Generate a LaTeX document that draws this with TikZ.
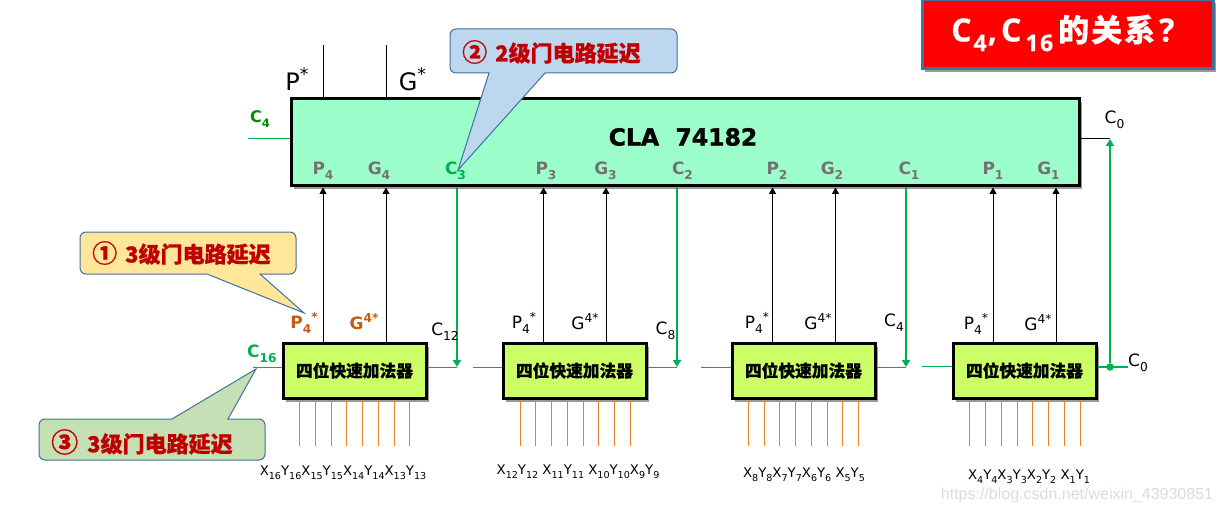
\documentclass[tikz,border=0pt]{standalone}
\usepackage{fontspec}
\setmainfont{DejaVu Sans}
\newfontfamily\cjk[BoldFeatures={FakeBold=0.6}]{Noto Sans CJK SC}
\newfontfamily\blk[BoldFeatures={FakeBold=1.6}]{DejaVu Sans}
\newfontfamily\ttlf[BoldFeatures={FakeBold=0.5}]{Open Sans}
\newfontfamily\wmf{Liberation Sans}
\usetikzlibrary{arrows.meta,shadows}
\definecolor{cgreen}{HTML}{00B050}
\definecolor{dgreen}{HTML}{008A00}
\definecolor{orng}{HTML}{ED7D31}
\definecolor{dorng}{HTML}{C55A11}
\definecolor{gry}{HTML}{767171}
\definecolor{dred}{HTML}{C00000}
\definecolor{edge}{HTML}{41719C}
\definecolor{mint}{HTML}{9CFFCB}
\definecolor{lime}{HTML}{CCFF66}
\definecolor{cyell}{HTML}{FFE699}
\definecolor{cblue}{HTML}{BDD7EE}
\definecolor{cgrn}{HTML}{C5E0B4}
\newcommand\fs[1]{\fontsize{#1}{#1}\selectfont}
\newcommand\dn[1]{\raisebox{-.3em}{\scalebox{.72}{#1}}}
\newcommand\upp[1]{\raisebox{.42em}{\scalebox{.72}{#1}}}
\newcommand\xy[2]{X\dn{#1}Y\dn{#2}}
\newcommand\addtxt{\raisebox{-2.5pt}{四位快速加法器}}
\newcommand\delaytxt[2]{{\fs{25}#1}\hspace{8pt}#2}
\tikzset{
  x=1pt,y=-1pt,
  softshadow/.style={drop shadow={shadow xshift=2.5pt,shadow yshift=-3.5pt,opacity=.4,fill=black}},
  clabox/.style={draw=black,line width=3pt,fill=mint,minimum width=788pt,minimum height=87pt,inner sep=0,softshadow},
  addbox/.style={draw=black,line width=3pt,fill=lime,minimum width=143pt,minimum height=55pt,inner sep=0,softshadow,font=\cjk\bfseries\fs{16.7}},
  ttlbox/.style={draw=edge,line width=3pt,fill=red,minimum width=291pt,minimum height=69pt,inner sep=0,softshadow},
  sig/.style={line width=1pt,black,-{Triangle[length=6.5pt,width=7pt]}},
  wire/.style={line width=1pt,black},
  gline/.style={line width=1pt,cgreen},
  garrow/.style={line width=2pt,cgreen,-{Triangle[length=7pt,width=8pt]}},
  stub/.style={line width=1pt,orng},
  pinlab/.style={inner sep=0,text=gry,font=\bfseries\fs{17}},
  plain/.style={inner sep=0,font=\fs{17}},
  hot/.style={inner sep=0,text=dorng,font=\bfseries\fs{17}},
  xylab/.style={inner sep=0,font=\fs{13.3}},
  callout/.style={draw=edge,line width=1pt},
  calltext/.style={inner sep=0,text=dred,font=\cjk\bfseries\fs{22}},
}
\begin{document}
\begin{tikzpicture}
\useasboundingbox (0,0) rectangle (1220,513);
% main blocks
\node[clabox] (cla) at (685,142.5) {};
\node[inner sep=0,font=\blk\bfseries\fs{23.5}] (clat) at (683,137) {CLA\ \ 74182};
\node[addbox] (add1) at (354.5,370.5) {\addtxt};
\node[addbox] (add2) at (574.5,370.5) {\addtxt};
\node[addbox] (add3) at (803.5,370.5) {\addtxt};
\node[addbox] (add4) at (1024.5,370.5) {\addtxt};
\node[ttlbox] (ttl) at (1067.5,34.5) {};
\node[inner sep=0,anchor=west,text=white,font=\ttlf\bfseries\fs{32}] (ttlt) at (951,33) {C\hspace{2pt}\dn{4}\hspace{1pt},\hspace{4pt}C\hspace{4pt}\dn{1\hspace{2pt}6}\hspace{5pt}{\cjk\bfseries\fs{31}的\hspace{2pt}关\hspace{2pt}系}\hspace{4pt}?};
% P / G signals
\foreach \a/\x in {add1/323,add1/386,add2/543.5,add2/606,add3/772.5,add3/835.5,add4/993,add4/1056}{
  \coordinate (tx) at (\x,0);
  \draw[sig] (\a.north -| tx) -- (cla.south -| tx);
}
\coordinate (pout) at (323,45);
\coordinate (gout) at (386,45);
\draw[wire] (cla.north -| pout) -- (pout);
\draw[wire] (cla.north -| gout) -- (gout);
% carry chain
\coordinate (c16e) at (253,367);
\coordinate (j1) at (457,367);
\coordinate (k1) at (473,367);
\coordinate (j2) at (677,367);
\coordinate (k2) at (701,367);
\coordinate (j3) at (906,367);
\coordinate (k3) at (922,366);
\coordinate (c0e) at (1128,367);
\node[circle,fill=cgreen,inner sep=0,minimum size=7.5pt] (dot) at (1110,367) {};
\coordinate (c4e) at (248,139);
\coordinate (c0t) at (1110,139);
\draw[gline] (c16e) -- (add1.west |- c16e);
\draw[gline] (add1.east |- j1) -- (j1);
\draw[gline] (k1) -- (add2.west |- k1);
\draw[gline] (add2.east |- j2) -- (j2);
\draw[gline] (k2) -- (add3.west |- k2);
\draw[gline] (add3.east |- j3) -- (j3);
\draw[gline] (k3) -- (add4.west |- k3);
\draw[line width=1.5pt,cgreen] (add4.east |- dot) -- (c0e);
\draw[garrow] (cla.south -| j1) -- (j1);
\draw[garrow] (cla.south -| j2) -- (j2);
\draw[garrow] (cla.south -| j3) -- (j3);
\draw[garrow] (dot) -- (c0t);
\draw[gline] (c4e) -- (cla.west |- c4e);
\draw[wire] (cla.east |- c0t) -- (c0t);
% input stubs
\foreach \a/\x in {add1/299.7,add1/315.3,add1/331.3,add1/346.3,add1/362.3,add1/378.3,add1/394.3,add1/409.3,
  add2/520.3,add2/535.3,add2/551.3,add2/567.3,add2/583.3,add2/598.3,add2/614.3,add2/630.3,
  add3/748.3,add3/764.3,add3/779.3,add3/795.3,add3/811.3,add3/827.3,add3/842.3,add3/858.3,
  add4/969.3,add4/985.3,add4/1001.3,add4/1017.3,add4/1032.3,add4/1048.3,add4/1064.3,add4/1080.3}{
  \coordinate (sx) at (\x,446);
  \draw[stub] (\a.south -| sx) -- (sx);
}
% pin labels in CLA
\node[pinlab] (lp4) at (323,171) {P\dn{4}};
\node[pinlab] (lg4) at (379,171) {G\dn{4}};
\node[pinlab,text=cgreen] (lc3) at (455.5,171) {C\dn{3}};
\node[pinlab] (lp3) at (546,171) {P\dn{3}};
\node[pinlab] (lg3) at (605.5,171) {G\dn{3}};
\node[pinlab] (lc2) at (682.5,171) {C\dn{2}};
\node[pinlab] (lp2) at (777,171) {P\dn{2}};
\node[pinlab] (lg2) at (832,171) {G\dn{2}};
\node[pinlab] (lc1) at (909,171) {C\dn{1}};
\node[pinlab] (lp1) at (993,171) {P\dn{1}};
\node[pinlab] (lg1) at (1048.5,171) {G\dn{1}};
% outer labels
\node[inner sep=0,font=\fs{24}] (ps) at (297,79) {P\upp{*}};
\node[inner sep=0,font=\fs{24}] (gs) at (412.5,79) {G\upp{*}};
\node[inner sep=0,text=dgreen,font=\bfseries\fs{16}] (c4l) at (260,119) {C\dn{4}};
\node[plain] (c0l) at (1114.5,120) {C\dn{0}};
\node[hot] (hp) at (304,323) {P\dn{4}\upp{*}};
\node[hot] (hg) at (364,322) {G\upp{4*}};
\node[inner sep=0,text=cgreen,font=\bfseries\fs{17}] (c16l) at (262,354) {C\dn{16}};
\node[plain] (c12l) at (445,332) {C\dn{12}};
\node[plain] (p2l) at (524,323) {P\dn{4}\upp{*}};
\node[plain] (g2l) at (585,322) {G\upp{4*}};
\node[plain] (c8l) at (665.5,331) {C\dn{8}};
\node[plain] (p3l) at (757,323) {P\dn{4}\upp{*}};
\node[plain] (g3l) at (818,322) {G\upp{4*}};
\node[plain] (c4m) at (894,323) {C\dn{4}};
\node[plain] (p4l) at (976,324) {P\dn{4}\upp{*}};
\node[plain] (g4l) at (1038,323) {G\upp{4*}};
\node[plain] (c0b) at (1138,363) {C\dn{0}};
% operand labels
\node[xylab] (xy1) at (343,473) {\xy{16}{16}\xy{15}{15}\xy{14}{14}\xy{13}{13}};
\node[xylab] (xy2) at (578,472) {\xy{12}{12} \xy{11}{11} \xy{10}{10}\xy{9}{9}};
\node[xylab] (xy3) at (804,475) {\xy{8}{8}\xy{7}{7}\xy{6}{6} \xy{5}{5}};
\node[xylab] (xy4) at (1029,477) {\xy{4}{4}\xy{3}{3}\xy{2}{2} \xy{1}{1}};
% callouts
\draw[callout,fill=cyell,rounded corners=6pt] (260,274) -- (296,274) -- (296,232) -- (80,232) -- (80,274) [sharp corners] -- (207,274) -- (304,313) -- cycle;
\node[calltext,anchor=west] (t1) at (92,253) {\delaytxt{①}{3级门电路延迟}};
\draw[callout,fill=cblue,rounded corners=6pt] (545,73) -- (677,73) -- (677,29) -- (450,29) -- (450,73) [sharp corners] -- (489,73) -- (458,170) -- cycle;
\node[calltext,anchor=west] (t2) at (462,52) {\delaytxt{②}{2级门电路延迟}};
\draw[callout,fill=cgrn,rounded corners=6pt] (228,419) -- (265,419) -- (265,460) -- (39,460) -- (39,419) [sharp corners] -- (172,419) -- (256,369) -- cycle;
\node[calltext,anchor=west] (t3) at (51,442) {{\fs{27}③}\hspace{9pt}3级门电路延迟};
% watermark
\node[inner sep=0,text=black!14,font=\wmf\fs{16}] (wm) at (1077,495) {https://blog.csdn.net/weixin\_43930851};
\end{tikzpicture}
\end{document}
